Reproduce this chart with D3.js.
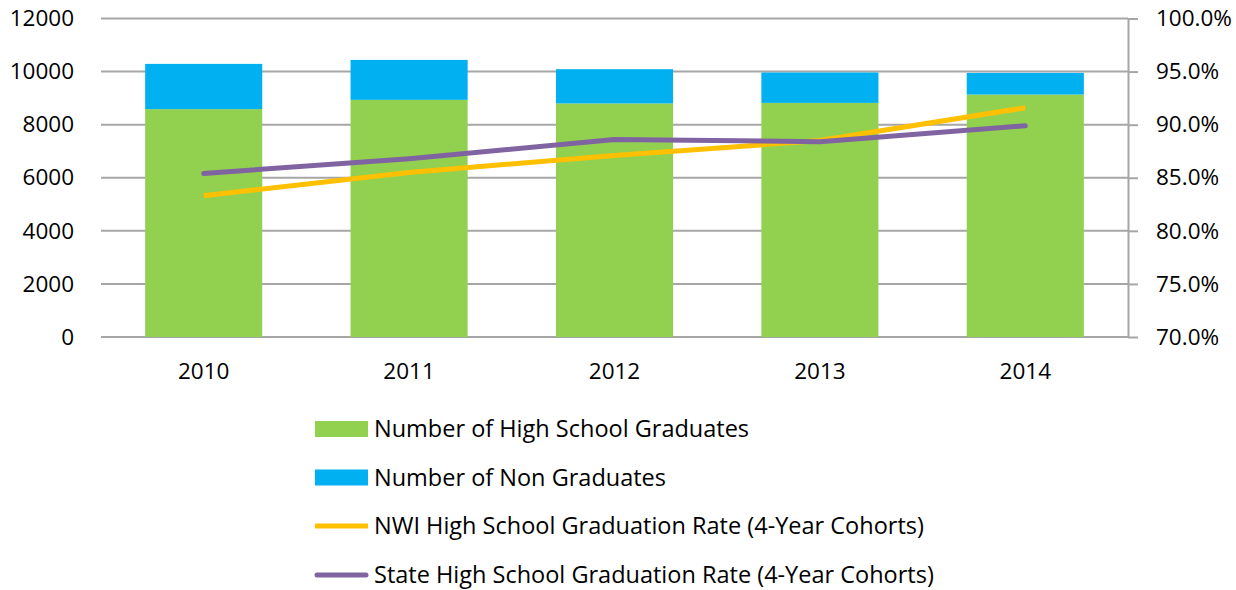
<!DOCTYPE html>
<html><head><meta charset="utf-8">
<script src="https://cdn.jsdelivr.net/npm/d3@7"></script>
<style>body{margin:0;background:#fff}svg{display:block}</style>
</head><body>
<svg id="c" width="1236" height="590"></svg>
<script>
const years = ["2010","2011","2012","2013","2014"];
const graduates = [8585, 8935, 8800, 8820, 9135];
const nonGraduates = [1705, 1505, 1290, 1145, 815];
const nwiRate = [0.833, 0.855, 0.871, 0.885, 0.916];
const stateRate = [0.854, 0.868, 0.886, 0.884, 0.899];
const leftTicks = [0,2000,4000,6000,8000,10000,12000];
const rightTicks = [0.70,0.75,0.80,0.85,0.90,0.95,1.00];
const legendLabels = ["Number of High School Graduates","Number of Non Graduates","NWI High School Graduation Rate (4-Year Cohorts)","State High School Graduation Rate (4-Year Cohorts)"];

const font = "'Open Sans', sans-serif";
const svg = d3.select("#c");
const L = 101, R = 1128, T = 18.5, B = 337;
const x = d3.scaleBand().domain(years).range([L,R]).paddingInner(0.43).paddingOuter(0.215);
const xc = d => x(d) + x.bandwidth()/2;
const y = d3.scaleLinear().domain([0,12000]).range([B,T]);
const y2 = d3.scaleLinear().domain([0.70,1.00]).range([B,T]);

// gridlines
svg.append("g").selectAll("line").data(leftTicks).join("line")
  .attr("x1",L).attr("x2",R).attr("y1",d=>y(d)).attr("y2",d=>y(d))
  .attr("stroke","#a6a6a6").attr("stroke-width",2);

// bars
const gb = svg.append("g");
gb.selectAll("rect.g").data(years).join("rect").attr("class","g")
  .attr("x",d=>x(d)).attr("width",x.bandwidth())
  .attr("y",(d,i)=>y(graduates[i])).attr("height",(d,i)=>y(0)-y(graduates[i]))
  .attr("fill","#92d050");
gb.selectAll("rect.n").data(years).join("rect").attr("class","n")
  .attr("x",d=>x(d)).attr("width",x.bandwidth())
  .attr("y",(d,i)=>y(graduates[i]+nonGraduates[i])).attr("height",(d,i)=>y(graduates[i])-y(graduates[i]+nonGraduates[i]))
  .attr("fill","#00b0f0");

// lines
const line = d3.line().x((d,i)=>xc(years[i])).y(d=>y2(d));
svg.append("path").datum(nwiRate).attr("d",line).attr("fill","none")
  .attr("stroke","#ffc000").attr("stroke-width",5).attr("stroke-linejoin","round");
svg.append("path").datum(stateRate).attr("d",line).attr("fill","none")
  .attr("stroke","#8064a2").attr("stroke-width",5).attr("stroke-linejoin","round").attr("stroke-linecap","round");

// left axis
const la = svg.append("g").attr("transform",`translate(${L},0)`)
  .call(d3.axisLeft(y).tickValues(leftTicks).tickFormat(d3.format("d")).tickSize(0).tickPadding(27));
la.select(".domain").remove();
la.selectAll("text").attr("font-family",font).attr("font-size",22.5).attr("fill","#000");

// right axis
const ra = svg.append("g").attr("transform",`translate(${R},0)`)
  .call(d3.axisRight(y2).tickValues(rightTicks).tickFormat(d3.format(".1%")).tickSize(10).tickPadding(18).tickSizeOuter(0));
ra.select(".domain").attr("stroke","#a6a6a6").attr("stroke-width",2);
ra.selectAll(".tick line").attr("stroke","#a6a6a6").attr("stroke-width",2);
ra.selectAll("text").attr("font-family",font).attr("font-size",22.5).attr("fill","#000");

// x axis labels
const xa = svg.append("g").attr("transform",`translate(0,${B})`)
  .call(d3.axisBottom(x).tickSize(0).tickPadding(26));
xa.select(".domain").remove();
xa.selectAll("text").attr("font-family",font).attr("font-size",22.5).attr("fill","#000");

// legend
const lg = svg.append("g");
const rowsY = [429, 477.5, 526, 575];
const sx = 315, sw = 53;
lg.append("rect").attr("x",sx).attr("y",rowsY[0]-8).attr("width",sw).attr("height",16).attr("fill","#92d050");
lg.append("rect").attr("x",sx).attr("y",rowsY[1]-8).attr("width",sw).attr("height",16).attr("fill","#00b0f0");
lg.append("line").attr("x1",sx).attr("x2",sx+sw).attr("y1",rowsY[2]).attr("y2",rowsY[2]).attr("stroke","#ffc000").attr("stroke-width",5);
lg.append("line").attr("x1",sx+2).attr("x2",sx+sw-2).attr("y1",rowsY[3]).attr("y2",rowsY[3]).attr("stroke","#8064a2").attr("stroke-width",5).attr("stroke-linecap","round");
lg.selectAll("text").data(legendLabels).join("text")
  .attr("x",374).attr("y",(d,i)=>rowsY[i]).attr("dy","0.35em")
  .attr("font-family",font).attr("font-size",23.5).attr("fill","#000").text(d=>d);
</script>
</body></html>
